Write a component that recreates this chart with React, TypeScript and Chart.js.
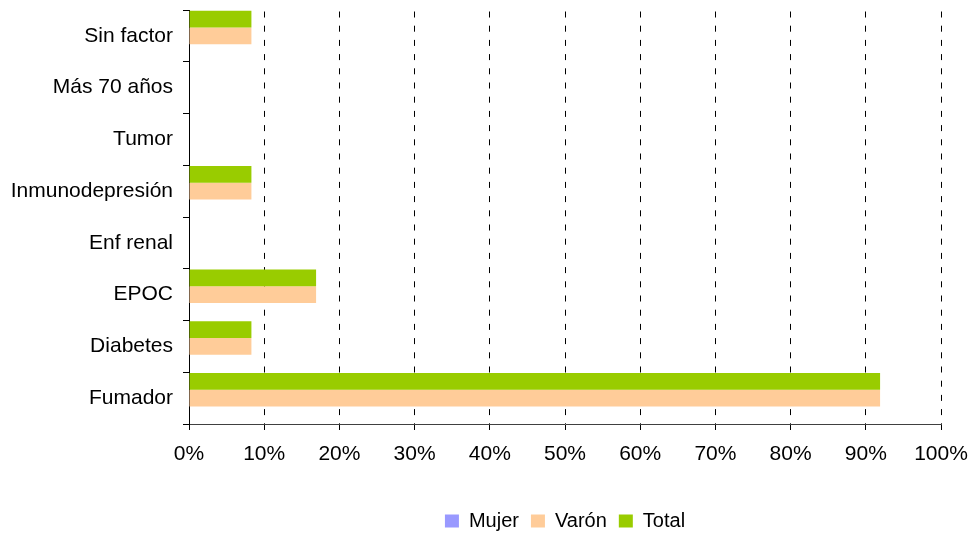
import React, { useEffect, useRef } from "react";
import { Chart, registerables } from "chart.js";

Chart.register(...registerables);

const categories = [
  "Sin factor",
  "Más 70 años",
  "Tumor",
  "Inmunodepresión",
  "Enf renal",
  "EPOC",
  "Diabetes",
  "Fumador",
];
const mujerValues = [0, 0, 0, 0, 0, 0, 0, 0];
const varonValues = [8.3, 0, 0, 8.3, 0, 16.9, 8.3, 91.9];
const totalValues = [8.3, 0, 0, 8.3, 0, 16.9, 8.3, 91.9];
const xTicks = [0, 10, 20, 30, 40, 50, 60, 70, 80, 90, 100];

const FONT = "'Liberation Sans', Arial, sans-serif";

export default function App() {
  const ref = useRef<HTMLCanvasElement | null>(null);

  useEffect(() => {
    if (!ref.current) return;
    const chart = new Chart(ref.current, {
      type: "bar",
      data: {
        labels: categories,
        datasets: [
          { label: "Total", data: totalValues, backgroundColor: "#99CC00", borderWidth: 0 },
          { label: "Varón", data: varonValues, backgroundColor: "#FFCC99", borderWidth: 0 },
          { label: "Mujer", data: mujerValues, backgroundColor: "#9999FF", borderWidth: 0 },
        ],
      },
      options: {
        indexAxis: "y",
        animation: false,
        responsive: false,
        categoryPercentage: 0.97,
        barPercentage: 1,
        layout: { padding: { top: 10, right: 29, left: 0, bottom: -7 } },
        plugins: {
          tooltip: { enabled: false },
          legend: {
            position: "bottom",
            fullSize: false,
            reverse: true,
            labels: {
              font: { family: FONT, size: 20 },
              color: "#000",
              boxWidth: 14,
              boxHeight: 13,
              padding: 12,
            },
          },
        },
        scales: {
          x: {
            type: "linear",
            min: 0,
            max: 100,
            afterBuildTicks: (scale: any) => {
              scale.ticks = xTicks.map((v) => ({ value: v }));
            },
            afterFit: (scale: any) => {
              scale.height = 75;
              scale.paddingLeft = 0;
              scale.paddingRight = 0;
              scale.paddingTop = 0;
              scale.paddingBottom = 0;
            },
            ticks: {
              callback: (v: any) => v + "%",
              font: { family: FONT, size: 21 },
              color: "#000",
              padding: 12,
              maxRotation: 0,
              autoSkip: false,
            },
            grid: {
              color: "#000",
              lineWidth: 1,
              tickLength: 6,
              tickColor: "#000",
              tickBorderDash: [],
              drawTicks: true,
            },
            border: { display: true, color: "#404040", width: 1, dash: [6, 8.2], dashOffset: -1.5 },
          },
          y: {
            type: "category",
            afterFit: (scale: any) => {
              scale.width = 189;
              scale.paddingLeft = 0;
              scale.paddingRight = 0;
              scale.paddingTop = 0;
              scale.paddingBottom = 0;
            },
            ticks: {
              font: { family: FONT, size: 21 },
              color: "#000",
              padding: 10,
              autoSkip: false,
            },
            grid: {
              drawOnChartArea: false,
              drawTicks: true,
              tickLength: 6,
              color: "#000",
              tickColor: "#000",
              offset: true,
            },
            border: { display: true, color: "#000", width: 1 },
          },
        },
      },
    });
    return () => chart.destroy();
  }, []);

  return (
    <div style={{ position: "fixed", left: 0, top: 0, width: 970, height: 534, background: "#fff" }}>
      <canvas ref={ref} width={970} height={534} />
    </div>
  );
}
